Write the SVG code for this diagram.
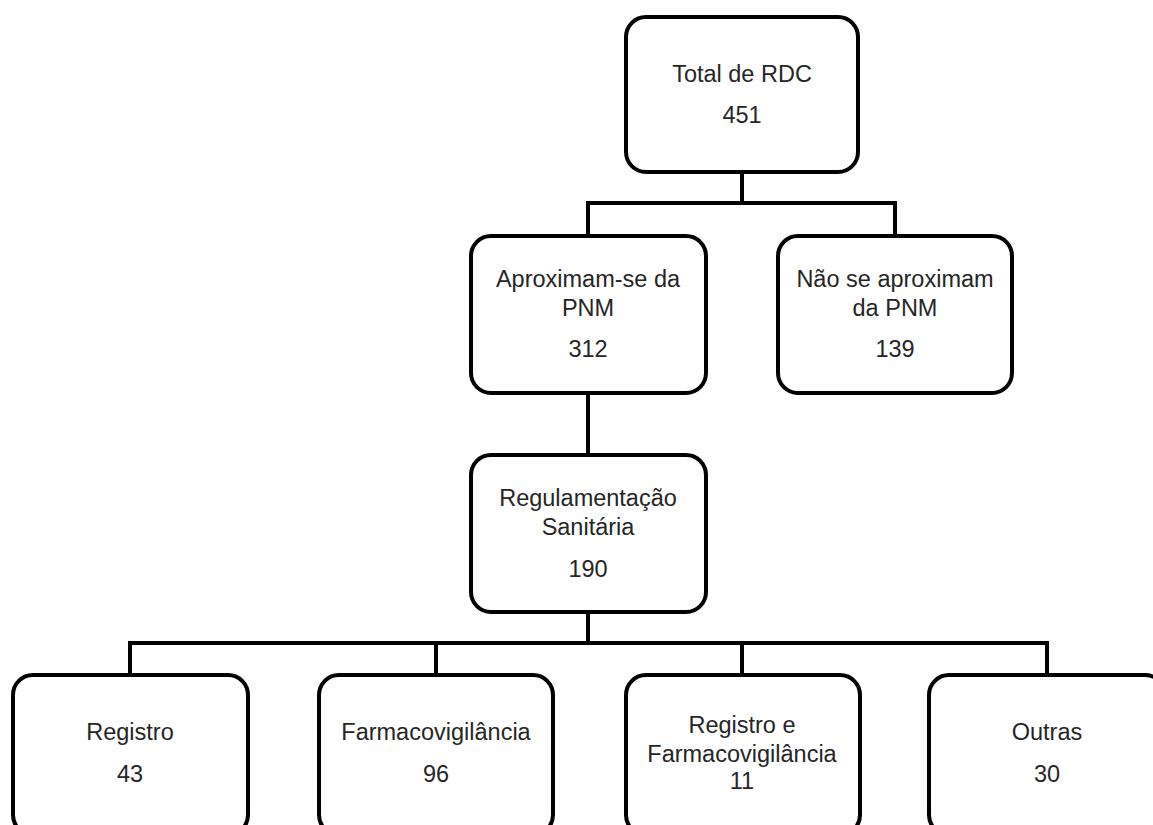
<svg xmlns="http://www.w3.org/2000/svg" width="1153" height="825" viewBox="0 0 1153 825">
<style>
.box{fill:#fff;stroke:#000;stroke-width:4}
.conn{fill:none;stroke:#000;stroke-width:4}
text{font-family:"Liberation Sans",Arial,sans-serif;font-size:23.5px;fill:#262626;text-anchor:middle}
</style>
<rect width="1153" height="825" fill="#fff"/>
<g id="connectors">
<path class="conn" d="M742 172V203M588 203H895M588 201V236M895 201V236"/>
<path class="conn" d="M588 393V455"/>
<path class="conn" d="M588 612V643M130 643H1047M130 641V675M436 641V675M742 641V675M1047 641V675"/>
</g>
<g id="total">
<rect class="box" x="626" y="17" width="232" height="155" rx="20"/>
<text x="742" y="82">Total de RDC</text>
<text x="742" y="123">451</text>
</g>
<g id="aproximam">
<rect class="box" x="471" y="236" width="235" height="157" rx="20"/>
<text x="588" y="287">Aproximam-se da</text>
<text x="588" y="316">PNM</text>
<text x="588" y="357">312</text>
</g>
<g id="nao">
<rect class="box" x="778" y="236" width="234" height="157" rx="20"/>
<text x="895" y="287">Não se aproximam</text>
<text x="895" y="316">da PNM</text>
<text x="895" y="357">139</text>
</g>
<g id="regulamentacao">
<rect class="box" x="471" y="455" width="235" height="157" rx="20"/>
<text x="588" y="506">Regulamentação</text>
<text x="588" y="535">Sanitária</text>
<text x="588" y="577">190</text>
</g>
<g id="registro">
<rect class="box" x="13" y="675" width="235" height="160" rx="20"/>
<text x="130" y="740">Registro</text>
<text x="130" y="782">43</text>
</g>
<g id="farmaco">
<rect class="box" x="319" y="675" width="234" height="160" rx="20"/>
<text x="436" y="740">Farmacovigilância</text>
<text x="436" y="782">96</text>
</g>
<g id="registro-farmaco">
<rect class="box" x="626" y="675" width="234" height="160" rx="20"/>
<text x="742" y="733">Registro e</text>
<text x="742" y="762">Farmacovigilância</text>
<text x="742" y="789">11</text>
</g>
<g id="outras">
<rect class="box" x="929" y="675" width="236" height="160" rx="20"/>
<text x="1047" y="740">Outras</text>
<text x="1047" y="782">30</text>
</g>
</svg>
